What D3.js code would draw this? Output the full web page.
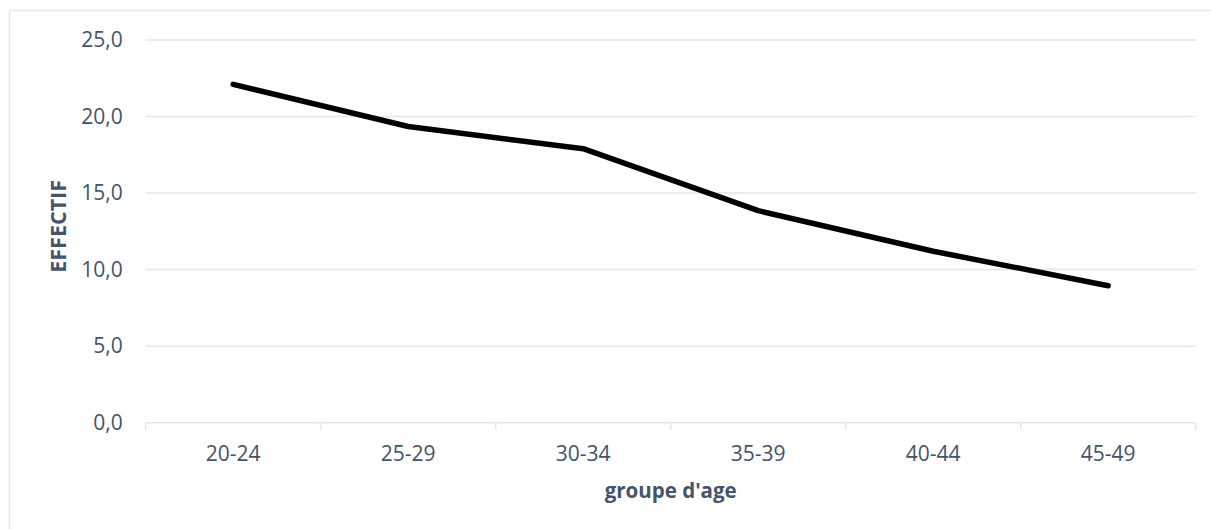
<!DOCTYPE html>
<html>
<head>
<meta charset="utf-8">
<script src="https://cdn.jsdelivr.net/npm/d3@7"></script>
<style>
  html, body { margin: 0; padding: 0; background: #fff; }
  svg { display: block; }
</style>
</head>
<body>
<script>
// Age groups and counts
const categories = ["20-24", "25-29", "30-34", "35-39", "40-44", "45-49"];
const values = [22.1, 19.35, 17.9, 13.85, 11.2, 8.95];
const yTicks = [0, 5, 10, 15, 20, 25];
const xTitle = "groupe d'age";
const yTitle = "EFFECTIF";

const W = 1211, H = 529;
const margin = { left: 145.7, right: 15.3, top: 40, bottom: 106.3 };
const textColor = "#44546A";
const gridColor = "#E1E5EC";
const font = "'Open Sans', 'Noto Sans', sans-serif";

const svg = d3.select("body").append("svg")
  .attr("width", W).attr("height", H);

// chart frame (runs past the right and bottom edges)
svg.append("rect")
  .attr("x", 9.5).attr("y", 10.5)
  .attr("width", W + 20).attr("height", H + 20)
  .attr("fill", "none").attr("stroke", gridColor).attr("stroke-width", 1.5);

const x = d3.scaleBand().domain(categories)
  .range([margin.left, W - margin.right]).padding(0);
const y = d3.scaleLinear().domain([0, 25])
  .range([H - margin.bottom, margin.top]);

// horizontal gridlines
svg.append("g").selectAll("line").data(yTicks.filter(d => d > 0)).join("line")
  .attr("x1", margin.left).attr("x2", W - margin.right)
  .attr("y1", d => y(d)).attr("y2", d => y(d))
  .attr("stroke", gridColor).attr("stroke-width", 1.5);

// y axis labels
const yAxis = d3.axisLeft(y).tickValues(yTicks)
  .tickFormat(d => d3.format(".1f")(d).replace(".", ","))
  .tickSize(0).tickPadding(23);
const gy = svg.append("g").attr("transform", `translate(${margin.left},0)`).call(yAxis);
gy.select(".domain").remove();
gy.selectAll("text").attr("fill", textColor)
  .style("font-family", font).style("font-size", "21px");

// x axis with category boundary ticks
const gx = svg.append("g").attr("transform", `translate(0,${y(0)})`);
gx.append("line")
  .attr("x1", margin.left).attr("x2", W - margin.right)
  .attr("stroke", gridColor).attr("stroke-width", 1.5);
const bounds = categories.map(c => x(c)).concat([x(categories[categories.length - 1]) + x.bandwidth()]);
gx.selectAll("line.tick").data(bounds).join("line").attr("class", "tick")
  .attr("x1", d => d).attr("x2", d => d).attr("y1", 0).attr("y2", 7)
  .attr("stroke", gridColor).attr("stroke-width", 1.5);
gx.selectAll("text").data(categories).join("text")
  .attr("x", d => x(d) + x.bandwidth() / 2).attr("y", 38)
  .attr("text-anchor", "middle").attr("fill", textColor)
  .style("font-family", font).style("font-size", "21px")
  .text(d => d);

// axis titles
svg.append("text")
  .attr("x", (margin.left + W - margin.right) / 2).attr("y", 498)
  .attr("text-anchor", "middle").attr("fill", textColor)
  .style("font-family", font).style("font-size", "20.5px").style("font-weight", "bold")
  .text(xTitle);
svg.append("text")
  .attr("transform", `translate(66,${(margin.top + H - margin.bottom) / 2 - 5}) rotate(-90)`)
  .attr("text-anchor", "middle").attr("fill", textColor)
  .style("font-family", font).style("font-size", "21.5px").style("font-weight", "bold")
  .text(yTitle);

// data line
const line = d3.line()
  .x((d, i) => x(categories[i]) + x.bandwidth() / 2)
  .y(d => y(d));
svg.append("path").datum(values)
  .attr("d", line)
  .attr("fill", "none").attr("stroke", "#000")
  .attr("stroke-width", 5.5)
  .attr("stroke-linecap", "round").attr("stroke-linejoin", "round");
</script>
</body>
</html>
